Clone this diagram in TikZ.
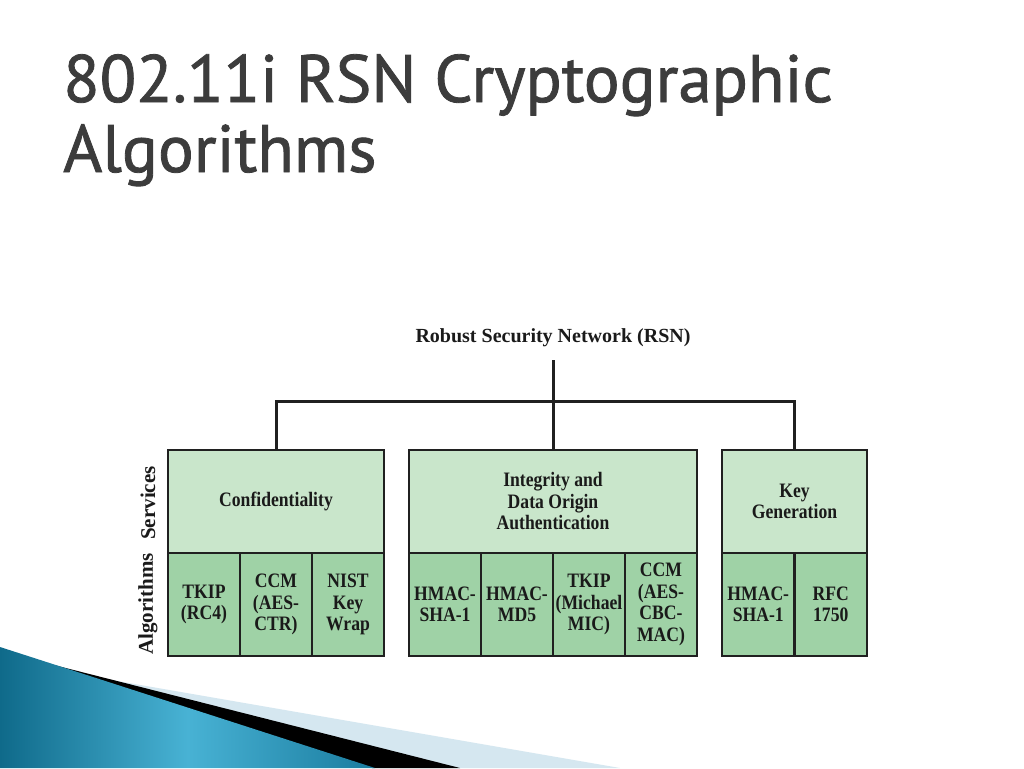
\documentclass[tikz,border=0pt]{standalone}
\usepackage{fontspec}
\setmainfont{Liberation Serif}
\newfontfamily\cellfont[BoldFont={Liberation Serif Bold}, BoldFeatures={FakeStretch=0.86}, FakeStretch=0.86]{Liberation Serif}
\newfontfamily\titlefont[FakeBold=1.2]{PT Sans}
\usetikzlibrary{positioning}
\definecolor{svc}{HTML}{C9E6CB}
\definecolor{alg}{HTML}{9FD2A6}
\definecolor{edge}{HTML}{202020}
\definecolor{titlegray}{HTML}{3C3C3C}
\definecolor{wedgeA}{HTML}{0F6A8A}
\definecolor{wedgeB}{HTML}{48B2D4}
\definecolor{wedgeC}{HTML}{1A7C9F}
\definecolor{lightband}{HTML}{D5E7F0}
\definecolor{inktext}{HTML}{1A1A1A}
\tikzset{
  cellbox/.style={draw=edge, line width=2.8pt, inner sep=0pt, align=center,
    font=\cellfont\fontsize{20.5}{21.5}\selectfont\bfseries, text=inktext},
  svcbox/.style={cellbox, fill=svc, minimum height=103pt},
  algbox/.style={cellbox, fill=alg, minimum height=103pt, minimum width=72pt},
  conn/.style={draw=edge, line width=3pt},
  sidelabel/.style={font=\fontsize{21}{22}\selectfont\bfseries, rotate=90, inner sep=0pt, text=inktext},
  titletext/.style={font=\titlefont\fontsize{67}{70}\selectfont, text=titlegray, inner sep=0pt, anchor=base west}
}
\begin{document}
\begin{tikzpicture}[x=1pt,y=-1pt]
\useasboundingbox (0,0) rectangle (1024,768);
\fill[white] (0,0) rectangle (1024,768);
% bottom decoration
\fill[lightband] (100,678) -- (620,768) -- (380,768) -- cycle;
\fill[black] (50,664) -- (460,768) -- (372,768) -- cycle;
\shade[left color=wedgeA, right color=wedgeC, middle color=wedgeB] (0,647) -- (375,768) -- (0,768) -- cycle;
% title
\node[titletext] (t1) at (63,102) {802.11i RSN Cryptographic};
\node[titletext] (t2) at (63,172) {Algorithms};
% root
\node[font=\fontsize{20}{21}\selectfont\bfseries, text=inktext, inner sep=0pt] (rsn) at (553,338) {Robust Security Network (RSN)};
% service boxes
\node[svcbox, minimum width=216pt] (conf) at (276,501.5) {Confidentiality};
\node[svcbox, minimum width=288pt] (integ) at (553,501.5) {Integrity and\\Data Origin\\Authentication};
\node[svcbox, minimum width=145pt] (keyg) at (794.5,501.5) {Key\\Generation};
% algorithm boxes
\node[algbox] (a1) at (204,604.5) {TKIP\\(RC4)};
\node[algbox] (a2) at (276,604.5) {CCM\\(AES-\\CTR)};
\node[algbox] (a3) at (348,604.5) {NIST\\Key\\Wrap};
\node[algbox] (b1) at (445,604.5) {HMAC-\\SHA-1};
\node[algbox] (b2) at (517,604.5) {HMAC-\\MD5};
\node[algbox] (b3) at (589,604.5) {TKIP\\(Michael\\MIC)};
\node[algbox] (b4) at (661,604.5) {CCM\\(AES-\\CBC-\\MAC)};
\node[algbox, minimum width=72.5pt] (c1) at (758.25,604.5) {HMAC-\\SHA-1};
\node[algbox, minimum width=72.5pt] (c2) at (830.75,604.5) {RFC\\1750};
% side labels
\node[sidelabel] (svcl) at (148,503) {Services};
\node[sidelabel] (algl) at (148,604) {Algorithms};
% connectors
\coordinate (stem) at (553,360);
\coordinate (bus) at (553,401);
\draw[conn] (stem) -- (integ.north);
\draw[conn] (conf.north) |- (bus) -| (keyg.north);
\end{tikzpicture}
\end{document}
